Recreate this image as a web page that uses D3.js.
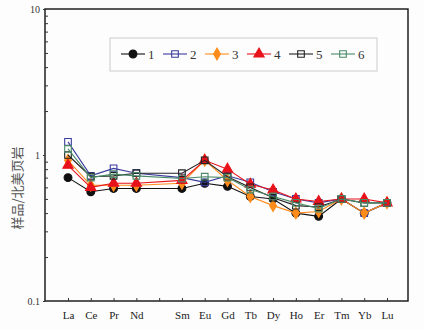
<!DOCTYPE html>
<html>
<head>
<meta charset="utf-8">
<script src="https://cdn.jsdelivr.net/npm/d3@7"></script>
<style>
  body { margin: 0; background: #fdfdfd; }
  svg { display: block; }
</style>
</head>
<body>
<svg id="chart"></svg>
<script>
// REE elements (Pm slot left empty on the axis)
const elements = ["La", "Ce", "Pr", "Nd", "", "Sm", "Eu", "Gd", "Tb", "Dy", "Ho", "Er", "Tm", "Yb", "Lu"];
const yTicks = [0.1, 1, 10];
const seriesNames = ["1", "2", "3", "4", "5", "6"];

// values per element, null for Pm
const s1 = [0.70, 0.56, 0.59, 0.59, null, 0.59, 0.64, 0.61, 0.52, 0.50, 0.40, 0.38, 0.50, 0.40, 0.47];
const s2 = [1.23, 0.72, 0.81, 0.75, null, 0.70, 0.65, 0.72, 0.65, 0.56, 0.50, 0.47, 0.50, 0.40, 0.47];
const s3 = [0.92, 0.62, 0.62, 0.62, null, 0.64, 0.92, 0.67, 0.52, 0.45, 0.40, 0.41, 0.50, 0.40, 0.47];
const s4 = [0.85, 0.60, 0.64, 0.64, null, 0.67, 0.92, 0.80, 0.63, 0.575, 0.50, 0.48, 0.50, 0.50, 0.47];
const s5 = [1.00, 0.71, 0.72, 0.75, null, 0.75, 0.92, 0.71, 0.60, 0.51, 0.45, 0.44, 0.50, 0.47, 0.47];
const s6 = [1.10, 0.70, 0.74, 0.72, null, 0.69, 0.71, 0.70, 0.58, 0.52, 0.47, 0.43, 0.50, 0.47, 0.47];

const width = 424, height = 329;
const margin = { top: 9, right: 16, bottom: 28, left: 45 };

const svg = d3.select('#chart').attr('width', width).attr('height', height);

const styles = [
    { color: "#111111", shape: d3.symbolCircle, size: 48, fill: true },
    { color: "#3b3b9e", shape: d3.symbolSquare, size: 44, fill: false },
    { color: "#ff8c1a", shape: d3.symbolDiamond, size: 40, fill: true },
    { color: "#e8121a", shape: d3.symbolTriangle, size: 46, fill: true },
    { color: "#222222", shape: d3.symbolSquare, size: 44, fill: false },
    { color: "#4a8a68", shape: d3.symbolSquare, size: 44, fill: false }
];
const allSeries = [s1, s2, s3, s4, s5, s6];

const x = d3.scalePoint().domain(d3.range(elements.length))
    .range([68, 387]);
const y = d3.scaleLog().domain([0.1, 10]).range([height - margin.bottom, margin.top]);

// plot frame
svg.append('rect')
    .attr('x', margin.left).attr('y', margin.top)
    .attr('width', width - margin.left - margin.right)
    .attr('height', height - margin.top - margin.bottom)
    .attr('fill', '#fdfdfd')
    .attr('stroke', '#111').attr('stroke-width', 1.4);

// x axis, ticks inside
const xAxis = svg.append('g')
    .attr('transform', `translate(0, ${height - margin.bottom})`)
    .call(d3.axisBottom(x).tickSize(-3).tickPadding(10).tickFormat(i => elements[i]));
xAxis.select('.domain').remove();
xAxis.selectAll('line').attr('stroke', '#333');
xAxis.selectAll('text')
    .style('font-family', '"Liberation Serif", serif')
    .style('font-size', '11px').attr('fill', '#222');

// y axis, minor ticks inside
const minor = [];
[0.1, 1].forEach(d => { for (let k = 2; k < 10; k++) minor.push(d * k); });
const yMinor = svg.append('g')
    .attr('transform', `translate(${margin.left}, 0)`)
    .call(d3.axisRight(y).tickValues(minor).tickSize(3).tickFormat(''));
yMinor.select('.domain').remove();
yMinor.selectAll('line').attr('stroke', '#333');

const yMajor = svg.append('g')
    .attr('transform', `translate(${margin.left}, 0)`)
    .call(d3.axisLeft(y).tickValues(yTicks).tickSize(2).tickPadding(3).tickFormat(d => d3.format('~g')(d)));
yMajor.select('.domain').remove();
yMajor.selectAll('line').attr('stroke', '#333');
yMajor.selectAll('text')
    .style('font-family', '"Liberation Serif", serif')
    .style('font-size', '10px').attr('fill', '#333');

// y title
svg.append('text')
    .attr('transform', `translate(22, 188) rotate(-90)`)
    .attr('text-anchor', 'middle')
    .style('font-family', '"Noto Sans CJK SC", sans-serif')
    .style('font-size', '13px')
    .attr('fill', '#555')
    .text('样品/北美页岩');

// series
const line = d3.line()
    .defined(d => d.v != null)
    .x(d => x(d.i))
    .y(d => y(d.v));

allSeries.forEach((vals, k) => {
    const st = styles[k];
    const pts = vals.map((v, i) => ({ i, v }));
    svg.append('path')
        .datum(pts.filter(d => d.v != null))
        .attr('fill', 'none')
        .attr('stroke', st.color)
        .attr('stroke-width', 1.1)
        .attr('d', line);
    svg.selectAll(`.m${k}`)
        .data(pts.filter(d => d.v != null))
        .enter().append('path')
        .attr('transform', d => `translate(${x(d.i)}, ${y(d.v)})`)
        .attr('d', d3.symbol().type(st.shape).size(st.size))
        .attr('fill', st.fill ? st.color : 'none')
        .attr('stroke', st.color)
        .attr('stroke-width', 1.1);
});

// legend
const legend = svg.append('g');
legend.append('rect')
    .attr('x', 110).attr('y', 38).attr('width', 267).attr('height', 33)
    .attr('fill', '#fdfdfd').attr('stroke', '#cccccc');

seriesNames.forEach((name, k) => {
    const st = styles[k];
    const gx = 121 + k * 42, gy = 54;
    legend.append('line')
        .attr('x1', gx).attr('x2', gx + 24).attr('y1', gy).attr('y2', gy)
        .attr('stroke', st.color).attr('stroke-width', 1.1);
    legend.append('path')
        .attr('transform', `translate(${gx + 12}, ${gy})`)
        .attr('d', d3.symbol().type(st.shape).size(st.size))
        .attr('fill', st.fill ? st.color : 'none')
        .attr('stroke', st.color).attr('stroke-width', 1.1);
    legend.append('text')
        .attr('x', gx + 27).attr('y', gy + 4.5)
        .style('font-family', '"Liberation Serif", serif')
        .style('font-size', '13px').attr('fill', '#333')
        .text(name);
});
</script>
</body>
</html>
